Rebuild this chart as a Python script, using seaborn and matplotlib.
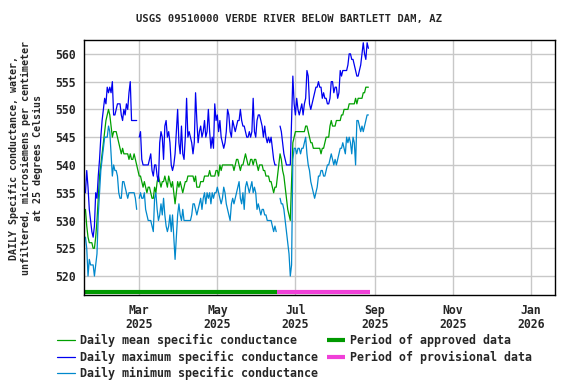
import numpy as np
import pandas as pd
import matplotlib
matplotlib.use('Agg')
import matplotlib.pyplot as plt
from matplotlib.lines import Line2D
import seaborn as sns

nan = np.nan

# daily values, starting 2025-01-18
start_date = '2025-01-18'

mean_vals = [
    532, 529, 527, 526, 526, 526, 525, 525, 527, 530,
    534, 538, 540, 542, 544, 546, 548, 549, 550, 549,
    547, 545, 546, 546, 546, 545, 544, 543, 542, 543,
    542, 542, 542, 542, 541, 542, 541, 541, 542, 541,
    540, 539, 538, 538, 537, 536, 537, 536, 535, 536,
    536, 535, 534, 534, 536, 535, 537, 538, 537, 536,
    537, 537, 538, 537, 536, 538, 537, 536, 537, 535,
    533, 535, 537, 536, 537, 536, 535, 536, 537, 537,
    538, 538, 538, 538, 538, 537, 538, 536, 536, 536,
    537, 537, 537, 538, 538, 538, 538, 539, 538, 538,
    538, 538, 539, 539, 538, 540, 539, 540, 540, 540,
    540, 540, 540, 540, 540, 540, 539, 540, 541, 541,
    540, 539, 540, 540, 541, 542, 541, 540, 540, 541,
    541, 540, 541, 541, 540, 539, 540, 540, 540, 539,
    539, 538, 538, 538, 537, 537, 536, 535, 536, 536,
    538, 540, 542, 541, 539, 538, 536, 534, 532, 531,
    530, 537, 544, 545, 546, 546, 546, 546, 546, 546,
    546, 546, 547, 547, 546, 545, 544, 544, 543, 543,
    543, 543, 543, 543, 542, 543, 543, 544, 545, 545,
    545, 547, 548, 547, 547, 547, 548, 548, 548, 548,
    549, 549, 550, 550, 550, 550, 551, 551, 551, 551,
    551, 552, 551, 552, 552, 552, 552, 553, 553, 554,
    554, 554,
]

max_vals = [
    535, 539, 536, 532, 530, 528, 527, 529, 535, 534,
    538, 541, 545, 548, 550, 552, 551, 554, 553, 554,
    553, 555, 549, 549, 550, 551, 551, 551, 549, 548,
    550, 549, 551, 550, 553, 555, 548, 548, 548, 548,
    548, nan, 545, 546, 541, 540, 540, 540, 540, 540,
    541, 542, 539, 538, 540, 540, 538, 537, 544, 546,
    545, 541, 547, 548, 545, 546, 544, 540, 539, 540,
    542, 546, 550, 544, 542, 547, 542, 541, 545, 552,
    545, 546, 545, 544, 542, 544, 553, 548, 544, 546,
    547, 545, 546, 548, 545, 546, 550, 546, 543, 545,
    543, 551, 548, 549, 546, 548, 545, 544, 543, 544,
    546, 550, 549, 546, 545, 548, 547, 546, 547, 548,
    548, 550, 548, 547, 547, 546, 545, 545, 546, 545,
    546, 552, 546, 545, 548, 549, 549, 548, 547, 545,
    547, 545, 544, 545, 544, 545, 543, 541, 540, 540,
    nan, nan, 547, 546, 544, 542, 541, 540, 540, 540,
    540, 548, 556, 551, 549, 552, 550, 549, 550, 551,
    549, 551, 552, 557, 556, 551, 550, 551, 552, 553,
    554, 554, 555, 554, 554, 552, 553, 552, 552, 551,
    551, 552, 555, 555, 553, 554, 554, 552, 553, 557,
    556, 557, 557, 557, 557, 558, 560, 560, 559, 559,
    558, 557, 556, 556, 557, 558, 560, 562, 560, 559,
    562, 561,
]

min_vals = [
    527, 525, 520, 523, 522, 522, 522, 520, 522, 524,
    531, 535, 539, 541, 543, 545, 545, 545, 547, 546,
    542, 538, 540, 539, 539, 538, 535, 534, 534, 537,
    537, 536, 535, 534, 535, 535, 535, 535, 535, 534,
    532, nan, 534, 535, 534, 534, 535, 532, 531, 530,
    530, 530, 529, 528, 534, 535, 532, 530, 531, 533,
    531, 534, 531, 529, 528, 529, 531, 528, 531, 527,
    523, 527, 531, 533, 531, 530, 532, 530, 530, 530,
    530, 530, 530, 531, 533, 533, 532, 531, 532, 533,
    534, 532, 534, 535, 533, 535, 534, 535, 533, 535,
    534, 535, 535, 536, 535, 534, 533, 534, 536, 535,
    533, 532, 531, 530, 533, 534, 533, 534, 535, 536,
    537, 534, 533, 535, 532, 536, 537, 536, 535, 536,
    537, 535, 536, 535, 532, 533, 532, 531, 532, 532,
    531, 531, 530, 530, 530, 530, 529, 528, 529, 528,
    nan, nan, 534, 533, 533, 532, 530, 528, 526, 524,
    520, 522, 541, 543, 543, 542, 543, 543, 542, 543,
    543, 544, 545, 542, 540, 539, 537, 536, 535, 534,
    535, 536, 538, 538, 539, 539, 538, 538, 539, 540,
    540, 541, 542, 541, 540, 541, 540, 541, 542, 543,
    543, 544, 543, 542, 545, 544, 545, 544, 542, 545,
    544, 540, 548, 548, 547, 546, 547, 546, 547, 548,
    549, 549,
]

approved_period = ['2025-01-17', '2025-06-17']
provisional_period = ['2025-06-17', '2025-08-28']

tick_dates = ['2025-03-01', '2025-05-01', '2025-07-01', '2025-09-01', '2025-11-01', '2026-01-01']
tick_labels = ['Mar\n2025', 'May\n2025', 'Jul\n2025', 'Sep\n2025', 'Nov\n2025', 'Jan\n2026']
y_ticks = [520, 525, 530, 535, 540, 545, 550, 555, 560]

series_names = ['mean', 'max', 'min']
legend_labels = ['Daily mean specific conductance',
                 'Daily maximum specific conductance',
                 'Daily minimum specific conductance',
                 'Period of approved data',
                 'Period of provisional data']

title = 'USGS 09510000 VERDE RIVER BELOW BARTLETT DAM, AZ'
ylabel = ('DAILY Specific conductance, water,\n'
          'unfiltered, microsiemens per centimeter\n'
          'at 25 degrees Celsius')

colors = {'mean': '#00a000', 'max': '#0000f0', 'min': '#0088cc'}
approved_color = '#009900'
provisional_color = '#f040d8'

sns.set_theme(style='white')
plt.rcParams['font.family'] = ['DejaVu Sans Mono']
plt.rcParams['font.weight'] = 'bold'

# long-form table, gaps split into separate units so lines break there
dates = pd.date_range(start_date, periods=len(mean_vals), freq='D')
df = pd.DataFrame({'date': dates, 'mean': mean_vals, 'max': max_vals, 'min': min_vals})
long = df.melt(id_vars='date', var_name='series', value_name='value')
long['seg'] = long.groupby('series')['value'].transform(lambda s: s.isna().cumsum())
long = long.dropna()

fig = plt.figure(figsize=(5.76, 3.84), dpi=100)
ax = fig.add_axes([0.1467, 0.2305, 0.8168, 0.6654])

sns.lineplot(data=long, x='date', y='value', hue='series', hue_order=series_names,
             units='seg', estimator=None, palette=colors, linewidth=0.9,
             legend=False, ax=ax)

# data-approval bars along the bottom
trans = ax.get_xaxis_transform()
ax.plot(pd.to_datetime(approved_period), [0.015, 0.015], color=approved_color,
        lw=3, solid_capstyle='butt', transform=trans, clip_on=False)
ax.plot(pd.to_datetime(provisional_period), [0.015, 0.015], color=provisional_color,
        lw=3, solid_capstyle='butt', transform=trans, clip_on=False)

ax.set_xlim(pd.Timestamp('2025-01-17 06:00'), pd.Timestamp('2026-01-19 18:00'))
ax.set_ylim(516.5, 562.5)
ax.set_xticks(pd.to_datetime(tick_dates))
ax.set_xticklabels(tick_labels, fontsize=8.3, linespacing=1.1)
ax.set_yticks(y_ticks)
ax.set_yticklabels([str(v) for v in y_ticks], fontsize=8.3)
ax.tick_params(axis='both', length=0)
ax.tick_params(axis='x', pad=6)
ax.tick_params(axis='y', pad=6)
ax.grid(True, color='#c8c8c8', lw=1)
ax.set_axisbelow(True)
ax.set_xlabel('')
ax.set_ylabel('')
for sp in ax.spines.values():
    sp.set_color('black')
    sp.set_linewidth(1.0)

fig.text(0.502, 0.95, title, ha='center', va='center', fontsize=7.6)
fig.text(26 / 576, 1 - 158 / 384, ylabel, rotation=90, ha='center', va='center',
         multialignment='center', fontsize=7.2, linespacing=1.25)

handles = [Line2D([], [], color=colors[s], lw=0.9) for s in series_names]
handles += [Line2D([], [], color=approved_color, lw=3, solid_capstyle='butt'),
            Line2D([], [], color=provisional_color, lw=3, solid_capstyle='butt')]
fig.legend(handles, legend_labels, ncol=2, loc='upper left',
           bbox_to_anchor=(57 / 576, 1 - 334 / 384), frameon=False,
           fontsize=8.4, handlelength=1.55, handletextpad=0.45,
           columnspacing=0.7, labelspacing=0.3, borderpad=0, borderaxespad=0)

fig.savefig('out.png', dpi=100)
